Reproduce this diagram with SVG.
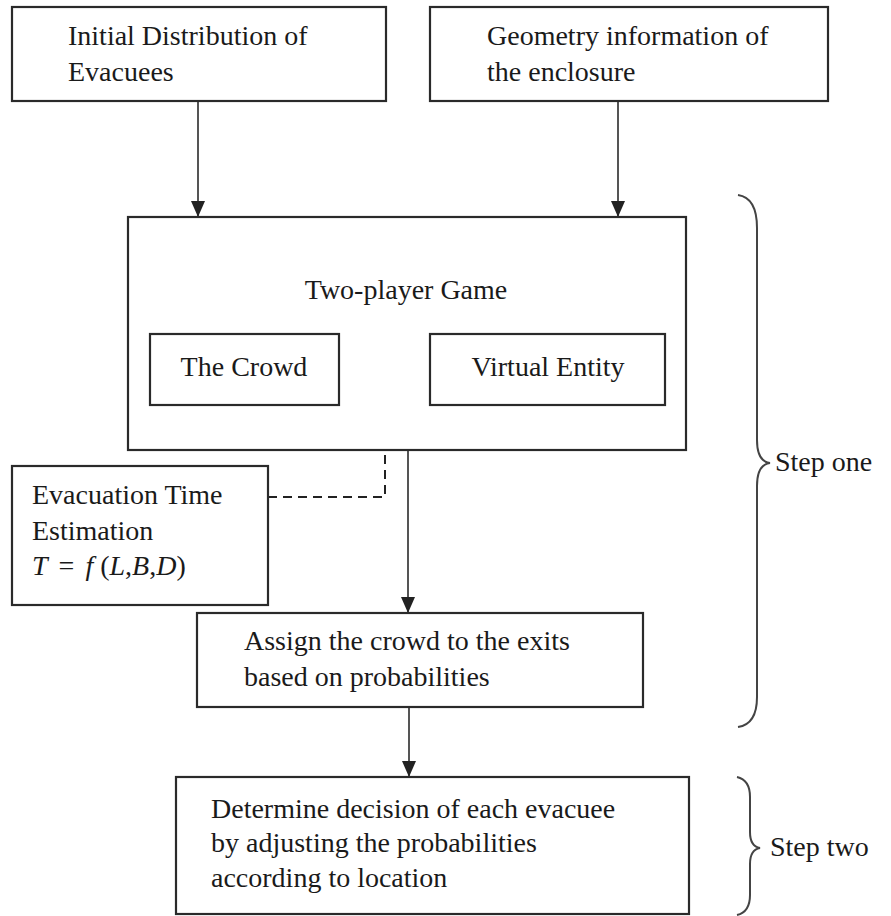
<svg xmlns="http://www.w3.org/2000/svg" width="891" height="916" viewBox="0 0 891 916">
  <style>
    .box { fill: #fff; stroke: #2a2a2a; stroke-width: 2.2; }
    .lbl { font-family: "Liberation Serif", "Times New Roman", serif; font-size: 28px; fill: #1a1a1a; }
    .mid { text-anchor: middle; }
    .it { font-style: italic; }
    .link { fill: none; stroke: #555; stroke-width: 2; }
    .dash { stroke-dasharray: 9 6; stroke: #222; }
    .brace { fill: none; stroke: #444; stroke-width: 2; }
  </style>
  <defs>
    <marker id="ah" viewBox="0 0 16 14" markerWidth="16" markerHeight="14" refX="16" refY="7" orient="auto-start-reverse" markerUnits="userSpaceOnUse">
      <path d="M0,0 L16,7 L0,14 z" fill="#222"/>
    </marker>
  </defs>

  <rect width="891" height="916" fill="#fff"/>

  <g id="connectors">
    <line class="link" x1="198" y1="101" x2="198" y2="217" marker-end="url(#ah)"/>
    <line class="link" x1="618" y1="101" x2="618" y2="217" marker-end="url(#ah)"/>
    <line class="link" x1="339" y1="358" x2="430" y2="358" stroke="#222" marker-start="url(#ah)" marker-end="url(#ah)"/>
    <polyline class="link dash" points="268,497 385,497 385,360" marker-end="url(#ah)"/>
    <line class="link" x1="408" y1="450" x2="408" y2="613" marker-end="url(#ah)"/>
    <line class="link" x1="409" y1="707" x2="409" y2="777" marker-end="url(#ah)"/>
  </g>

  <g id="initial-distribution">
    <rect class="box" x="12" y="7" width="374" height="94"/>
    <text class="lbl" x="68" y="45">Initial Distribution of</text>
    <text class="lbl" x="68" y="81">Evacuees</text>
  </g>

  <g id="geometry-info">
    <rect class="box" x="430" y="7" width="398" height="94"/>
    <text class="lbl" x="487" y="45">Geometry information of</text>
    <text class="lbl" x="487" y="81">the enclosure</text>
  </g>

  <g id="two-player-game">
    <rect class="box" x="128" y="217" width="558" height="233"/>
    <text class="lbl mid" x="406" y="299">Two-player Game</text>
  </g>

  <g id="the-crowd">
    <rect class="box" x="150" y="334" width="189" height="71"/>
    <text class="lbl mid" x="244" y="376">The Crowd</text>
  </g>

  <g id="virtual-entity">
    <rect class="box" x="430" y="334" width="235" height="71"/>
    <text class="lbl mid" x="548" y="376">Virtual Entity</text>
  </g>

  <g id="evacuation-time">
    <rect class="box" x="12" y="466" width="256" height="139"/>
    <text class="lbl" x="32" y="504">Evacuation Time</text>
    <text class="lbl" x="32" y="540">Estimation</text>
    <text class="lbl" x="32" y="575"><tspan class="it">T</tspan><tspan dx="4"> = </tspan><tspan class="it" dx="4">f</tspan> (<tspan class="it">L</tspan>,<tspan class="it">B</tspan>,<tspan class="it">D</tspan>)</text>
  </g>

  <g id="assign-exits">
    <rect class="box" x="197" y="613" width="446" height="94"/>
    <text class="lbl" x="244" y="650">Assign the crowd to the exits</text>
    <text class="lbl" x="244" y="686">based on probabilities</text>
  </g>

  <g id="determine-decision">
    <rect class="box" x="176" y="777" width="513" height="137"/>
    <text class="lbl" x="211" y="818">Determine decision of each evacuee</text>
    <text class="lbl" x="211" y="852">by adjusting the probabilities</text>
    <text class="lbl" x="211" y="887">according to location</text>
  </g>

  <g id="step-one">
    <path class="brace" d="M738,195 C752,197 757,210 757,228 L757,440 C757,455 762,462 770,463 C762,464 757,471 757,486 L757,697 C757,714 752,725 738,727"/>
    <text class="lbl" x="775" y="471">Step one</text>
  </g>

  <g id="step-two">
    <path class="brace" d="M737,777 C746,779 750,786 750,797 L750,832 C750,842 754,847 760,848 C754,849 750,854 750,864 L750,895 C750,906 746,913 737,915"/>
    <text class="lbl" x="770" y="856">Step two</text>
  </g>
</svg>
